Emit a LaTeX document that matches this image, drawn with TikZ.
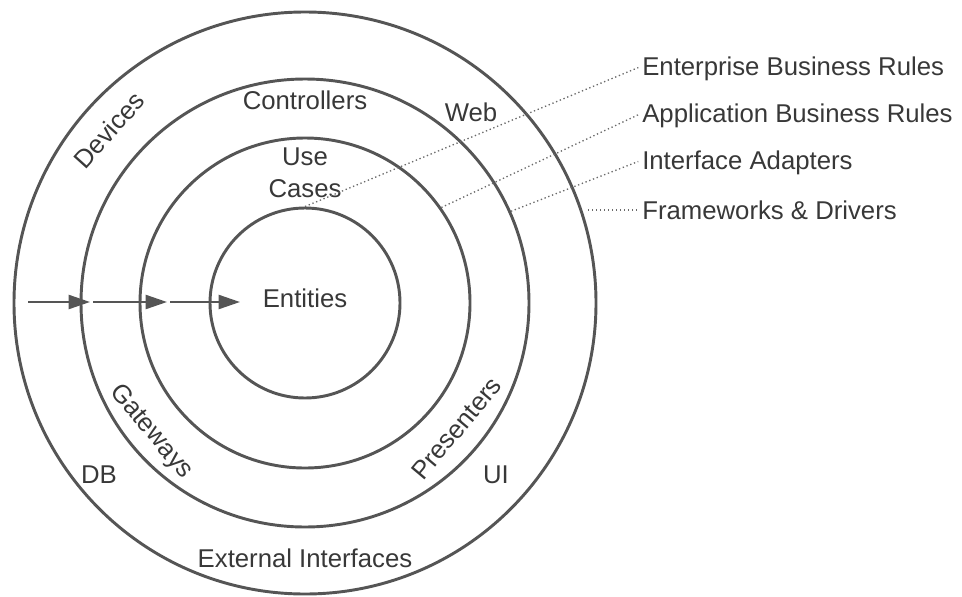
\documentclass[tikz,border=0pt]{standalone}
\usepackage{fontspec}
\setmainfont{Liberation Sans}
\usetikzlibrary{arrows.meta}
\definecolor{ringgray}{HTML}{555555}
\definecolor{inkgray}{HTML}{383838}
\definecolor{dotgray}{HTML}{6A6A6A}
\begin{document}
\begin{tikzpicture}[x=0.75pt,y=-0.75pt,
  ring/.style={circle,draw=ringgray,line width=2.2pt,inner sep=0pt},
  ink/.style={text=inkgray,font=\fontsize{19.3}{24}\selectfont,inner sep=0pt},
  txt/.style={ink,text height=13.8pt,text depth=0pt},
  layerlabel/.style={txt,anchor=west},
  leader/.style={draw=dotgray,line width=1pt,dotted,shorten >=3pt},
  flow/.style={draw=ringgray,line width=1.7pt,-{Triangle[length=16pt,width=10.5pt]}}]

\useasboundingbox (0,0) rectangle (962,596);

% concentric layers
\node[ring,minimum size=436.5pt] (drivers)  at (305,303) {};
\node[ring,minimum size=336pt]   (adapters) at (305,303) {};
\node[ring,minimum size=247.5pt] (usecases) at (305,303) {};
\node[ring,minimum size=142.5pt] (entities) at (305,303) {};

% texts inside the rings
\node[txt] (tEntities)    at (305,298) {Entities};
\node[ink,align=center,anchor=north] (tUseCases) at (305,148) {Use\\Cases};
\node[txt] (tControllers) at (305,100) {Controllers};
\node[txt] (tWeb)         at (471,112) {Web};
\node[txt,rotate=48]  (tDevices)    at (109,130) {Devices};
\node[txt,rotate=-50] (tGateways)   at (153,430) {Gateways};
\node[txt,rotate=50]  (tPresenters) at (456,428) {Presenters};
\node[txt] (tDB)       at (99,474)  {DB};
\node[txt] (tUI)       at (496,474) {UI};
\node[txt] (tExternal) at (305,558) {External Interfaces};

% layer names on the right
\node[layerlabel] (lEnt) at (642,66)  {Enterprise Business Rules};
\node[layerlabel] (lApp) at (642,113) {Application Business Rules};
\node[layerlabel] (lAda) at (642,160) {Interface Adapters};
\node[layerlabel] (lFw)  at (642,210) {Frameworks \& Drivers};

% dotted leaders
\coordinate (fwStart) at (588,210);
\draw[leader] (entities.north) -- (lEnt.west);
\draw[leader] (usecases.35)    -- (lApp.west);
\draw[leader] (adapters.24)    -- (lAda.west);
\draw[leader] (fwStart)        -- (lFw.west);

% dependency direction arrows
\coordinate (in0) at (28,302);
\coordinate (in1) at (90,302);
\coordinate (in2) at (93,302);
\coordinate (in3) at (167,302);
\coordinate (in4) at (170,302);
\coordinate (in5) at (240,302);
\draw[flow] (in0) -- (in1);
\draw[flow] (in2) -- (in3);
\draw[flow] (in4) -- (in5);
\end{tikzpicture}
\end{document}
